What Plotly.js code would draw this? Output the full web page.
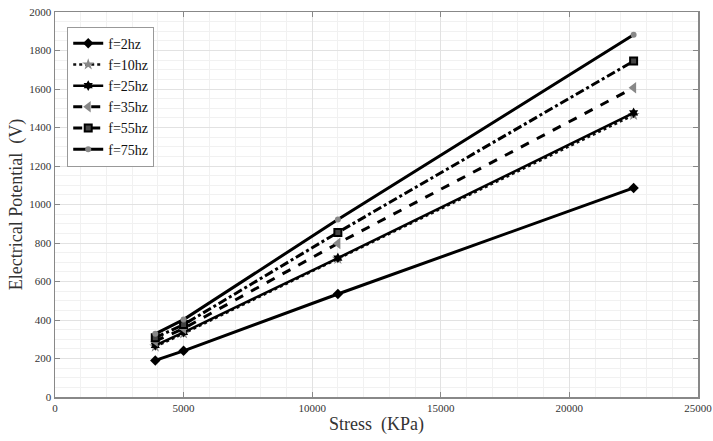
<!DOCTYPE html>
<html>
<head>
<meta charset="utf-8">
<script src="https://cdn.plot.ly/plotly-3.0.1.min.js"></script>
<style>html,body{margin:0;padding:0;background:#fff;}#chart{width:713px;height:441px;}</style>
</head>
<body>
<div id="chart"></div>
<script>
const stress = [3900, 5000, 11000, 22500];
const seriesNames = ['f=2hz', 'f=10hz', 'f=25hz', 'f=35hz', 'f=55hz', 'f=75hz'];
const f2 = [190, 240, 535, 1086];
const f10 = [262, 330, 718, 1465];
const f25 = [268, 336, 722, 1476];
const f35 = [290, 356, 798, 1606];
const f55 = [308, 376, 855, 1745];
const f75 = [328, 402, 922, 1882];
const xTicks = [0, 5000, 10000, 15000, 20000, 25000];
const yTicks = [0, 200, 400, 600, 800, 1000, 1200, 1400, 1600, 1800, 2000];

const values = [f2, f10, f25, f35, f55, f75];
const styles = [
  {dash: 'solid', width: 3, color: '#000', symbol: 'diamond', msize: 8, mcolor: '#000'},
  {dash: 'dot', width: 2.5, color: '#111', symbol: 'star', msize: 9, mcolor: '#888'},
  {dash: 'solid', width: 2.5, color: '#000', symbol: 'hexagram', msize: 8, mcolor: '#000'},
  {dash: 'dash', width: 3, color: '#000', symbol: 'triangle-left', msize: 10, mcolor: '#888'},
  {dash: 'dashdot', width: 3, color: '#000', symbol: 'square', msize: 7, mcolor: '#444'},
  {dash: 'solid', width: 3, color: '#000', symbol: 'circle', msize: 6, mcolor: '#888'}
];

const traces = values.map((v, i) => ({
  x: stress, y: v, name: seriesNames[i], type: 'scatter', mode: 'lines+markers',
  line: {dash: styles[i].dash, width: styles[i].width, color: styles[i].color},
  marker: {symbol: styles[i].symbol, size: styles[i].msize, color: styles[i].mcolor,
           line: {width: i === 4 ? 2 : 0, color: '#000'}}
}));

const fontFam = '"Liberation Serif", "Times New Roman", serif';
const layout = {
  width: 713, height: 441,
  margin: {l: 55, r: 15, t: 12, b: 44, autoexpand: false},
  paper_bgcolor: '#fff', plot_bgcolor: '#fff',
  font: {family: fontFam, color: '#333', size: 11},
  showlegend: true,
  legend: {x: 0.019, y: 0.962, xanchor: 'left', yanchor: 'top',
           bgcolor: '#fff', bordercolor: '#999', borderwidth: 1,
           font: {family: fontFam, size: 14, color: '#111'},
           tracegroupgap: 0, itemwidth: 30},
  xaxis: {
    range: [0, 25004], tickvals: xTicks, ticktext: xTicks.map(String),
    ticklabeloverflow: 'allow',
    showgrid: true, gridcolor: '#e2e2e2', gridwidth: 1,
    minor: {dtick: 1000, showgrid: true, gridcolor: '#f1f1f1', gridwidth: 1},
    showline: true, linecolor: '#888', linewidth: 1.5, mirror: 'ticks',
    ticks: 'inside', ticklen: 5, tickcolor: '#888',
    zeroline: false,
    tickfont: {family: fontFam, size: 11, color: '#333'},
    title: {text: 'Stress  (KPa)', font: {family: fontFam, size: 18, color: '#333'}, standoff: 4}
  },
  yaxis: {
    range: [0, 2000], tickvals: yTicks, ticktext: yTicks.map(String),
    showgrid: true, gridcolor: '#e2e2e2', gridwidth: 1,
    minor: {dtick: 50, showgrid: true, gridcolor: '#f1f1f1', gridwidth: 1},
    showline: true, linecolor: '#888', linewidth: 1.5, mirror: 'ticks',
    ticks: 'inside', ticklen: 5, tickcolor: '#888',
    zeroline: false,
    tickfont: {family: fontFam, size: 11, color: '#333'},
    title: {text: 'Electrical Potential  (V)', font: {family: fontFam, size: 18, color: '#333'}, standoff: 2}
  }
};
Plotly.newPlot('chart', traces, layout, {displayModeBar: false, staticPlot: true});
</script>
</body>
</html>
